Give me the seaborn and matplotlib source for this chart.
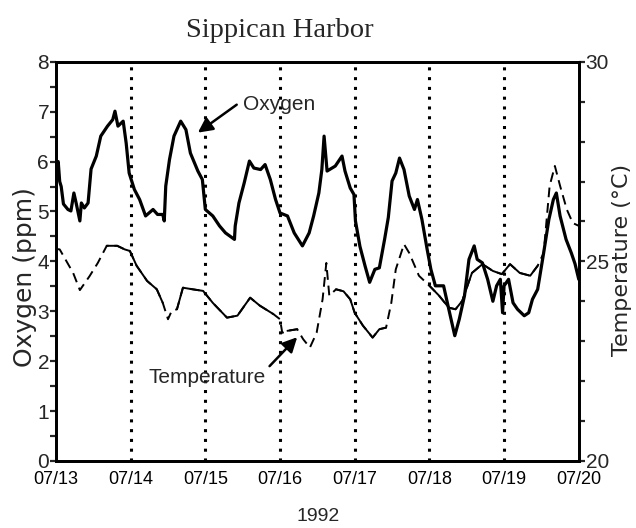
import matplotlib
matplotlib.use("Agg")
import matplotlib.pyplot as plt
from matplotlib import font_manager
import numpy as np
import pandas as pd
import seaborn as sns

# ---------------- data ----------------
day_labels = ["07/13", "07/14", "07/15", "07/16", "07/17", "07/18", "07/19", "07/20"]

oxy_day = [0.00, 0.03, 0.05, 0.07, 0.10, 0.16, 0.20, 0.24, 0.27, 0.32, 0.34, 0.38, 0.43, 0.47,
           0.54, 0.60, 0.69, 0.76, 0.79, 0.83, 0.90, 0.94, 0.98, 1.05, 1.12, 1.20, 1.30, 1.36,
           1.43, 1.45, 1.47, 1.52, 1.58, 1.67, 1.74, 1.80, 1.90, 1.96, 2.00, 2.10, 2.19, 2.27,
           2.39, 2.40, 2.45, 2.52, 2.59, 2.65, 2.74, 2.80, 2.87, 2.94, 3.00, 3.10, 3.19, 3.30,
           3.39, 3.45, 3.52, 3.56, 3.59, 3.63, 3.74, 3.83, 3.87, 3.94, 3.99, 4.01, 4.07, 4.14,
           4.20, 4.27, 4.33, 4.40, 4.45, 4.50, 4.55, 4.60, 4.66, 4.73, 4.80, 4.84, 4.90, 4.97,
           5.02, 5.08, 5.19, 5.26, 5.34, 5.40, 5.47, 5.53, 5.60, 5.64, 5.71, 5.78, 5.85, 5.90,
           5.95, 5.98, 6.00, 6.06, 6.12, 6.18, 6.27, 6.33, 6.38, 6.45, 6.53, 6.60, 6.66, 6.70,
           6.75, 6.83, 6.90, 6.95, 7.00]
oxy_ppm = [5.90, 6.00, 5.60, 5.50, 5.15, 5.04, 5.01, 5.37, 5.17, 4.81, 5.17, 5.07, 5.17, 5.85,
           6.11, 6.51, 6.71, 6.84, 7.01, 6.71, 6.81, 6.37, 5.77, 5.44, 5.24, 4.91, 5.04, 4.94,
           4.94, 4.81, 5.51, 6.04, 6.51, 6.81, 6.64, 6.17, 5.81, 5.64, 5.04, 4.91, 4.71, 4.57,
           4.44, 4.71, 5.17, 5.57, 6.01, 5.87, 5.84, 5.94, 5.64, 5.24, 4.97, 4.91, 4.57, 4.31,
           4.57, 4.91, 5.37, 5.84, 6.51, 5.81, 5.91, 6.11, 5.81, 5.47, 5.34, 4.81, 4.30, 3.90,
           3.58, 3.84, 3.87, 4.44, 4.88, 5.61, 5.77, 6.07, 5.84, 5.31, 5.04, 5.24, 4.84, 4.24,
           3.84, 3.51, 3.51, 3.04, 2.51, 2.84, 3.31, 4.04, 4.31, 4.04, 3.97, 3.64, 3.20, 3.51,
           3.64, 2.97, 3.51, 3.64, 3.17, 3.04, 2.91, 2.97, 3.24, 3.44, 4.17, 4.84, 5.24, 5.37,
           4.91, 4.44, 4.17, 3.95, 3.64]

temp_day = [0.00, 0.05, 0.23, 0.32, 0.45, 0.56, 0.68, 0.82, 0.92, 0.99, 1.08, 1.22, 1.35, 1.43,
            1.50, 1.55, 1.62, 1.70, 1.83, 1.97, 2.10, 2.29, 2.43, 2.60, 2.73, 2.91, 3.00, 3.03,
            3.10, 3.23, 3.31, 3.40, 3.49, 3.57, 3.62, 3.66, 3.75, 3.85, 3.94, 4.00, 4.11, 4.24,
            4.33, 4.42, 4.49, 4.55, 4.66, 4.73, 4.86, 5.00, 5.13, 5.26, 5.35, 5.44, 5.57, 5.71,
            5.85, 5.97, 6.08, 6.21, 6.35, 6.45, 6.53, 6.57, 6.61, 6.68, 6.75, 6.84, 6.92, 7.00]
temp_c = [25.31, 25.30, 24.71, 24.28, 24.63, 24.96, 25.39, 25.39, 25.30, 25.26, 24.89, 24.51,
          24.30, 23.96, 23.55, 23.76, 23.80, 24.34, 24.30, 24.26, 23.96, 23.59, 23.64, 24.09,
          23.89, 23.68, 23.55, 23.21, 23.26, 23.30, 23.05, 22.84, 23.21, 24.05, 24.96, 24.14,
          24.30, 24.25, 24.05, 23.71, 23.39, 23.09, 23.30, 23.34, 23.96, 24.80, 25.43, 25.21,
          24.64, 24.39, 24.14, 23.84, 23.80, 24.01, 24.71, 24.93, 24.76, 24.68, 24.93, 24.71,
          24.64, 24.89, 25.21, 26.05, 26.89, 27.39, 26.89, 26.30, 25.96, 25.89]

# stretches (in days) where the temperature trace is broken / dashed
temp_dashed_ranges = [(0.0, 0.68), (1.43, 1.62), (2.95, 3.05), (3.30, 3.75), (4.42, 4.90), (6.45, 7.0)]

# ---------------- style ----------------
sns.set_style("white")
names = {f.name for f in font_manager.fontManager.ttflist}
narrow = "Liberation Sans Narrow" if "Liberation Sans Narrow" in names else "Liberation Sans"
plt.rcParams["font.family"] = ["Liberation Sans", "DejaVu Sans"]

fig = plt.figure(figsize=(6.36, 5.28), dpi=100)
ax = fig.add_axes([0.088, 0.127, 0.822, 0.756])

oxy_df = pd.DataFrame({"day": oxy_day, "ppm": oxy_ppm})
sns.lineplot(data=oxy_df, x="day", y="ppm", ax=ax, color="black", lw=2.3, zorder=3)

for d in range(1, 7):
    ax.axvline(d, color="black", ls=(0, (1, 2.2)), lw=2.2, zorder=1)

ax2 = ax.twinx()
temp_df = pd.DataFrame({"day": temp_day, "temp": temp_c})
sns.lineplot(data=temp_df, x="day", y="temp", ax=ax2, color="black", lw=1.4,
             linestyle=(0, (5, 3)), zorder=2)

# solid portions of the temperature trace
inside = np.zeros(len(temp_day), dtype=bool)
for a, b in temp_dashed_ranges:
    inside |= (temp_df["day"] > a) & (temp_df["day"] < b)
seg = np.cumsum(inside)
solid = temp_df[~inside].copy()
solid["seg"] = seg[~inside]
sns.lineplot(data=solid, x="day", y="temp", units="seg", estimator=None, ax=ax2,
             color="black", lw=1.4, zorder=2)

# ---------------- axes ----------------
ax.set_xlim(0, 7)
ax.set_ylim(0, 8)
ax2.set_ylim(20, 30)

ax.set_xticks(range(8))
ax.set_xticklabels(day_labels, family=narrow, fontsize=13)
ax.set_xticks(np.arange(0.5, 7, 1), minor=True)
ax.set_yticks(range(9))
ax.set_yticklabels([str(i) for i in range(9)], family=narrow, fontsize=15)
ax.set_yticks(np.arange(0.5, 8, 1), minor=True)
ax2.set_yticks([20, 25, 30])
ax2.set_yticklabels(["20", "25", "30"], family=narrow, fontsize=15)
ax2.set_yticks(range(21, 30), minor=True)

ax.tick_params(axis="x", which="major", direction="in", length=7, width=1.6, pad=7, colors="black")
ax.tick_params(axis="x", which="minor", direction="in", length=5, width=1.4)
ax.tick_params(axis="y", which="both", direction="out", length=4, width=1.6, pad=1)
ax2.tick_params(axis="y", which="both", direction="out", length=4, width=1.6, pad=1)

for a in (ax, ax2):
    for s in a.spines.values():
        s.set_linewidth(2.0)
        s.set_color("black")

ax.set_xlabel("")
ax.set_ylabel("")
ax2.set_ylabel("")

fig.text(0.039, 0.475, "Oxygen (ppm)", rotation=90, ha="center", va="center", fontsize=18,
         family=["DejaVu Sans"])
fig.text(0.978, 0.508, "Temperature (°C)", rotation=90, ha="center", va="center", fontsize=16,
         family=["DejaVu Sans"])
fig.text(0.44, 0.943, "Sippican Harbor", ha="center", va="center", fontsize=20.5,
         family=["Liberation Serif", "DejaVu Serif"])
fig.text(0.5, 0.022, "1992", ha="center", va="center", fontsize=14, family=narrow)

# annotations
ax.annotate("", xy=(1.90, 6.58), xytext=(2.42, 7.14),
            arrowprops=dict(arrowstyle="-|>", color="black", lw=1.8, mutation_scale=22,
                            shrinkA=0, shrinkB=0), zorder=5)
ax.text(2.99, 7.14, "Oxygen", ha="center", va="center", fontsize=15, family=narrow)
ax.annotate("", xy=(3.23, 2.48), xytext=(2.86, 1.90),
            arrowprops=dict(arrowstyle="-|>", color="black", lw=1.8, mutation_scale=22,
                            shrinkA=0, shrinkB=0), zorder=5)
ax.text(2.02, 1.68, "Temperature", ha="center", va="center", fontsize=15, family=narrow)

fig.savefig("out.png", dpi=100)
